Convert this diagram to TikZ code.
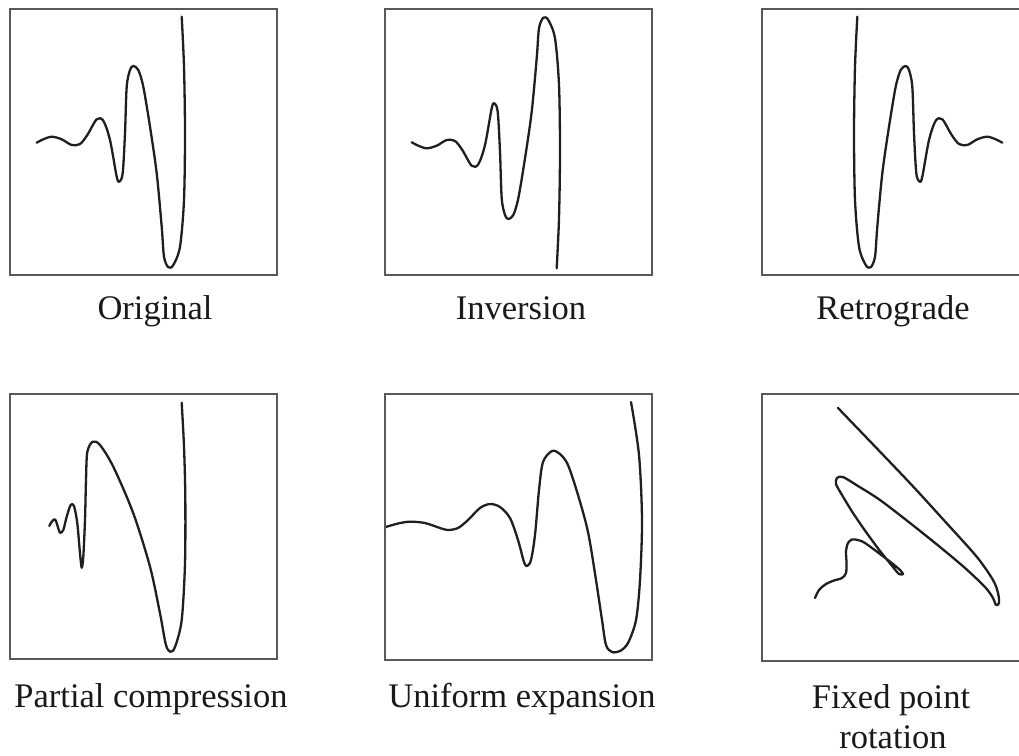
\documentclass[tikz,border=0pt]{standalone}
\usepackage{fontspec}
\setmainfont{Liberation Serif}
\tikzset{
  panel/.style={draw=black!65, line width=2.6pt, minimum width=267pt, minimum height=266pt, anchor=north west, inner sep=0pt, outer sep=0pt},
  curve/.style={line width=2.3pt, draw=black!88, line join=round, line cap=round},
  lab/.style={anchor=base, font=\fontsize{34.5}{40}\selectfont, inner sep=0pt, text=black!90}
}
\newcommand\origcurve{\draw[curve] plot[smooth,tension=0.5] coordinates {
 (26.7,133.7) (33.3,130.3) (41.7,127.7) (51.7,130.3) (61.7,136) (70,135) (77.3,126)
 (86.7,110.3) (93.3,111.7) (100,131) (106.7,167.7) (109.3,172.7) (112.7,164.3) (115,124.3)
 (116.7,77.7) (120,61) (123.3,57) (128.3,61) (133.3,77.7) (140,117.7) (146.7,164.3)
 (151.7,217.7) (154,247.7) (158.3,258.3) (163.3,256) (170,237.7) (174,191) (175,124.3)
 (174,57.7) (171.7,7.7)};}
\begin{document}
\begin{tikzpicture}[x=1pt,y=-1pt]
\clip (0,0) rectangle (1019,755);
% panels
\node[panel] (p1) at (10,9) {};
\node[panel] (p2) at (385,9) {};
\node[panel] (p3) at (762,9) {};
\node[panel, minimum height=265pt] (p4) at (10,394) {};
\node[panel] (p5) at (385,394) {};
\node[panel, minimum height=267pt] (p6) at (762,394) {};
% original
\begin{scope}[shift={(10,9)}]\origcurve\end{scope}
% inversion
\begin{scope}[shift={(385,276)}, yscale=-1]\origcurve\end{scope}
% retrograde
\begin{scope}[shift={(1029,9)}, xscale=-1]\origcurve\end{scope}
% partial compression
\draw[curve] plot[smooth,tension=0.5] coordinates {
 (49.3,526) (51.7,521.7) (55,519.3) (57.3,525) (60,532.7) (63.3,530) (66.7,516.7)
 (70.7,505) (74,506) (77.3,523.3) (80,553.3) (81.7,567.7) (83.3,556.7) (85,520)
 (86,480) (87.3,452) (92.7,441.7) (100,445) (113.3,466.7) (133.3,513.3) (150,566.7)
 (160,613.3) (165.7,644) (170,651.7) (175,647) (181.7,620) (185,563.3) (185.3,496.7)
 (184,446.7) (181.7,402.7)};
% uniform expansion
\begin{scope}
\clip (386,395) rectangle (652,659);
\draw[curve] plot[smooth,tension=0.5] coordinates {
 (384,527.5) (398,523.5) (410,521.7) (425,523) (440,528) (448,530) (458,528) (468,520)
 (480,508) (490,504) (500,507) (510,518) (518,540) (524,562) (527,566) (531,560)
 (535,535) (539,490) (543,462) (552,451) (560,454) (568,465) (578,495) (588,532)
 (596,580) (602,620) (606,645) (612,652) (620,651) (628,643) (636,620) (640,580)
 (642,520) (639,455) (631,402)};
\end{scope}
% fixed point rotation
\draw[curve] plot[smooth,tension=0.5] coordinates {
 (815,598) (819,590) (826,584) (834,580.5) (842,578) (846,573) (846.5,563) (846,551)
 (848,543) (852,539.5) (858,540) (865,543) (880,554) (893,564) (900,570) (903,574)
 (899,574) (893,567) (880,551) (866,532) (853,513) (842,495) (836,484) (837,478)
 (843,477) (858,486) (880,500) (910,523) (940,547) (965,568) (985,587) (993,598)
 (996,605) (999,603) (998,593) (993,580) (976.7,556.7) (946.7,523.3) (913.3,486.7)
 (880,451.7) (838,408)};
% labels
\node[lab] (l1) at (155,319) {Original};
\node[lab] (l2) at (521,319) {Inversion};
\node[lab] (l3) at (893,319) {Retrograde};
\node[lab] (l4) at (151,707) {Partial compression};
\node[lab] (l5) at (522,707) {Uniform expansion};
\node[lab] (l6) at (891,708) {Fixed point};
\node[lab] (l6b) at (893,748) {rotation};
\end{tikzpicture}
\end{document}
